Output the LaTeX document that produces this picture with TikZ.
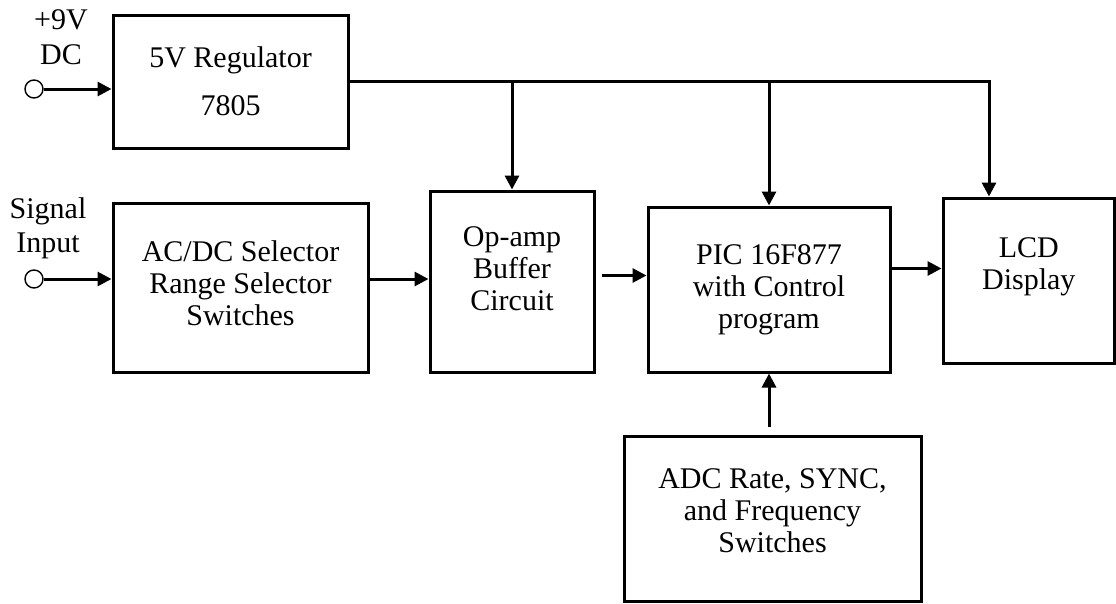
\documentclass[tikz,border=0pt]{standalone}
\usepackage{fontspec}
\setmainfont{Liberation Serif}
\usetikzlibrary{arrows.meta}

\newcommand{\dropby}[1]{\rule[-#1]{0pt}{0pt}}

\tikzstyle{block} = [draw, line width=3pt, align=center, inner sep=0pt]
\tikzstyle{terminal} = [circle, draw, line width=1.4pt, minimum size=18pt, inner sep=0pt]
\tikzstyle{conn} = [line width=3pt, -{Triangle[length=14pt,width=14pt]}]

\begin{document}
\begin{tikzpicture}[x=1pt,y=-1pt,font=\fontsize{30}{32}\selectfont]
\useasboundingbox (0,0) rectangle (1116,603);

\node[block, minimum width=235pt, minimum height=133pt] (reg) at (230.5,81.5)
	{5V Regulator\\[16pt]7805};
\node[block, minimum width=255pt, minimum height=169pt] (acdc) at (240.5,287.5)
	{AC/DC Selector\\Range Selector\\Switches\dropby{8pt}};
\node[block, minimum width=164pt, minimum height=181pt] (opamp) at (512,281.5)
	{Op-amp\\Buffer\\Circuit\dropby{26pt}};
\node[block, minimum width=242pt, minimum height=165pt] (pic) at (769,289.5)
	{PIC 16F877\\with Control\\program};
\node[block, minimum width=171.5pt, minimum height=165pt] (lcd) at (1028.75,280.5)
	{LCD\\Display\dropby{33pt}};
\node[block, minimum width=297pt, minimum height=165pt] (adc) at (772.5,518.5)
	{ADC Rate, SYNC,\\and Frequency\\Switches\dropby{16pt}};

\node[align=center, inner sep=0pt] (dclbl) at (61,37) {+9V\\[3pt]DC};
\node[align=center, inner sep=0pt] (siglbl) at (48,228) {Signal\\[2pt]Input};
\node[terminal] (dcin) at (34,89) {};
\node[terminal] (sigin) at (34,279) {};

\coordinate (tap) at (989,82);

\draw[conn] (dcin) -- (dcin -| reg.west);
\draw[conn] (sigin) -- (sigin -| acdc.west);
\draw[conn] (sigin -| acdc.east) -- (sigin -| opamp.west);
\draw[conn] ([xshift=6pt,yshift=6pt]opamp.east) -- ([yshift=6pt]opamp.east -| pic.west);
\draw[conn] ([yshift=12pt]lcd.west -| pic.east) -- ([yshift=12pt]lcd.west);
\draw[conn] ([yshift=8pt]adc.north -| pic.south) -- (pic.south);

% 5V supply line
\draw[conn] (reg.east) -| (tap |- lcd.north);
\draw[conn] (opamp.north |- reg.east) -- (opamp.north);
\draw[conn] (pic.north |- reg.east) -- (pic.north);
\end{tikzpicture}
\end{document}
